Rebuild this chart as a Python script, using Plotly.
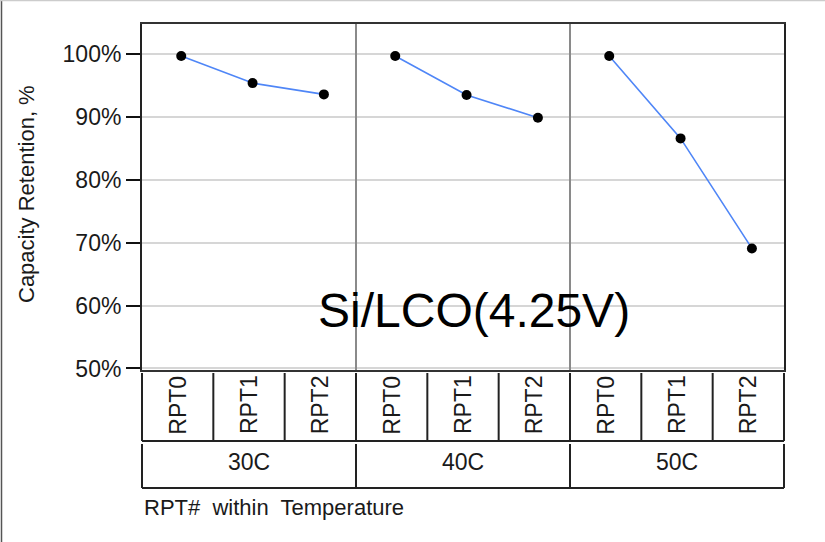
import plotly.graph_objects as go

# ---- data ----
temperatures = ["30C", "40C", "50C"]
rpts = ["RPT0", "RPT1", "RPT2"]
retention = {
    "30C": [99.7, 95.4, 93.6],
    "40C": [99.7, 93.5, 89.9],
    "50C": [99.7, 86.6, 69.1],
}
y_ticks = [50, 60, 70, 80, 90, 100]
y_tick_labels = ["50%", "60%", "70%", "80%", "90%", "100%"]
title_text = "Si/LCO(4.25V)"
y_title = "Capacity Retention, %"
x_title = "RPT#\u00a0 within\u00a0 Temperature"

# ---- geometry (pixels) ----
W, H = 825, 542
L, R, T, B = 142, 784, 24, 370
FONT = "Arial, Liberation Sans, sans-serif"


def px(x):
    return (x - L) / (R - L)


def py(y):
    return (B - y) / (B - T)


x_cats = [f"{t} {r}" for t in temperatures for r in rpts]

fig = go.Figure()
for t in temperatures:
    fig.add_trace(go.Scatter(
        x=[f"{t} {r}" for r in rpts], y=retention[t], mode="lines+markers",
        line=dict(color="#4F86F7", width=1.6),
        marker=dict(color="black", size=10),
        showlegend=False, hoverinfo="x+y",
    ))

shapes = []
# vertical separators inside plot
for k in (1, 2):
    shapes.append(dict(type="line", xref="paper", yref="paper",
                       x0=k / 3, x1=k / 3, y0=0, y1=1,
                       line=dict(color="#8a8a8a", width=2)))

line_col = "#222222"
n = len(x_cats)
# row 1 of category table (RPT)
r1_top, r1_bot = 373, 441
for i in range(n + 1):
    xx = i / n
    shapes.append(dict(type="line", xref="paper", yref="paper",
                       x0=xx, x1=xx, y0=py(r1_top), y1=py(r1_bot),
                       line=dict(color=line_col, width=2)))
shapes.append(dict(type="line", xref="paper", yref="paper",
                   x0=0, x1=1, y0=py(r1_bot), y1=py(r1_bot),
                   line=dict(color=line_col, width=2)))
# row 2 (temperature)
r2_top, r2_bot = 444, 488
for i in range(len(temperatures) + 1):
    xx = i / len(temperatures)
    shapes.append(dict(type="line", xref="paper", yref="paper",
                       x0=xx, x1=xx, y0=py(r2_top), y1=py(r2_bot),
                       line=dict(color=line_col, width=2)))
shapes.append(dict(type="line", xref="paper", yref="paper",
                   x0=0, x1=1, y0=py(r2_bot), y1=py(r2_bot),
                   line=dict(color=line_col, width=2)))
# outer frame (left and top)
shapes.append(dict(type="line", xref="paper", yref="paper",
                   x0=px(1.5), x1=px(1.5), y0=py(0), y1=py(H),
                   line=dict(color="#555555", width=1.5)))
shapes.append(dict(type="line", xref="paper", yref="paper",
                   x0=px(0), x1=px(W), y0=py(0.5), y1=py(0.5),
                   line=dict(color="#cccccc", width=1.5)))

annotations = []
for i, c in enumerate(x_cats):
    annotations.append(dict(
        text=c.split(" ")[1], xref="paper", yref="paper",
        x=(i + 0.5) / n, y=py((r1_top + r1_bot) / 2 - 2),
        xanchor="center", yanchor="middle", textangle=-90, showarrow=False,
        font=dict(family=FONT, size=23, color="#1a1a1a")))
for i, t in enumerate(temperatures):
    annotations.append(dict(
        text=t, xref="paper", yref="paper",
        x=(i + 0.5) / len(temperatures), y=py(461.5),
        xanchor="center", yanchor="middle", showarrow=False,
        font=dict(family=FONT, size=23, color="#1a1a1a")))
annotations.append(dict(
    text=x_title, xref="paper", yref="paper", x=px(142), y=py(507),
    xanchor="left", yanchor="middle", showarrow=False,
    font=dict(family=FONT, size=22, color="#1a1a1a")))
annotations.append(dict(
    text=y_title, xref="paper", yref="paper", x=px(26), y=py(194),
    xanchor="center", yanchor="middle", textangle=-90, showarrow=False,
    font=dict(family=FONT, size=22, color="#1a1a1a")))
annotations.append(dict(
    text=title_text, xref="paper", yref="paper", x=px(474), y=py(310),
    xanchor="center", yanchor="middle", showarrow=False,
    font=dict(family=FONT, size=48, color="black")))

fig.update_layout(
    width=W, height=H,
    margin=dict(l=L, r=W - R, t=T, b=H - B, pad=0),
    paper_bgcolor="white", plot_bgcolor="white",
    xaxis=dict(type="category", categoryorder="array", categoryarray=x_cats,
               range=[-0.55, 8.45], showticklabels=False, ticks="",
               showgrid=False, zeroline=False, showline=True, mirror=True,
               linecolor="#333333", linewidth=2),
    yaxis=dict(range=[49.76, 104.8], tickvals=y_ticks, ticktext=y_tick_labels,
               ticks="outside", ticklen=14, tickwidth=2, tickcolor="#111111",
               tickfont=dict(family=FONT, size=23, color="#1a1a1a"),
               showgrid=True, gridcolor="#d6d6d6", gridwidth=1.5,
               zeroline=False, showline=True, mirror=True,
               linecolor="#222222", linewidth=2),
    shapes=shapes, annotations=annotations,
    font=dict(family=FONT),
)

fig.write_html("out.html",
               config={"displayModeBar": False},
               post_script="document.body.style.margin='0px';"
                           "document.body.style.overflow='hidden';")
